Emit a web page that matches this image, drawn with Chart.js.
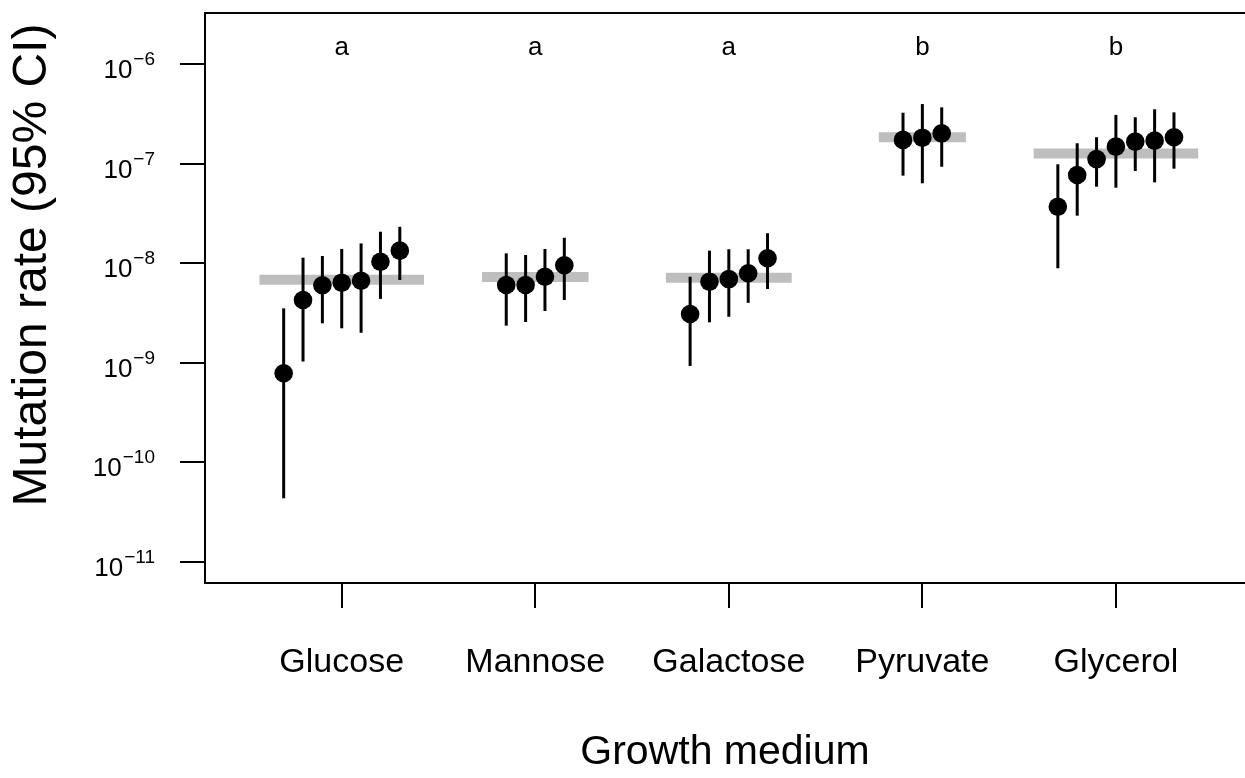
<!DOCTYPE html>
<html>
<head>
<meta charset="utf-8">
<script src="https://cdn.jsdelivr.net/npm/chart.js@4.4.1/dist/chart.umd.min.js"></script>
<style>
  html, body { margin: 0; padding: 0; background: #ffffff; }
  #wrap { width: 1245px; height: 778px; position: relative; }
</style>
</head>
<body>
<div id="wrap"><canvas id="c" width="1245" height="778"></canvas></div>
<script>
// ---------------- data ----------------
const categories = ['Glucose', 'Mannose', 'Galactose', 'Pyruvate', 'Glycerol'];
const groupLetters = ['a', 'a', 'a', 'b', 'b'];
const groupMean = [6.83e-9, 7.27e-9, 7.16e-9, 1.84e-7, 1.26e-7];

const glucoseRate  = [7.85e-10, 4.27e-9, 6.0e-9, 6.37e-9, 6.67e-9, 1.035e-8, 1.336e-8];
const glucoseLower = [4.36e-11, 1.03e-9, 2.49e-9, 2.22e-9, 2.0e-9, 4.38e-9, 6.78e-9];
const glucoseUpper = [3.52e-9, 1.135e-8, 1.18e-8, 1.39e-8, 1.58e-8, 2.07e-8, 2.32e-8];

const mannoseRate  = [6.04e-9, 6.04e-9, 7.31e-9, 9.53e-9];
const mannoseLower = [2.36e-9, 2.57e-9, 3.31e-9, 4.27e-9];
const mannoseUpper = [1.256e-8, 1.21e-8, 1.39e-8, 1.80e-8];

const galactoseRate  = [3.09e-9, 6.52e-9, 6.93e-9, 7.92e-9, 1.12e-8];
const galactoseLower = [9.3e-10, 2.55e-9, 2.90e-9, 4.0e-9, 5.51e-9];
const galactoseUpper = [7.31e-9, 1.336e-8, 1.38e-8, 1.38e-8, 2.0e-8];

const pyruvateRate  = [1.73e-7, 1.82e-7, 2.01e-7];
const pyruvateLower = [7.57e-8, 6.34e-8, 9.3e-8];
const pyruvateUpper = [3.24e-7, 3.96e-7, 3.67e-7];

const glycerolRate  = [3.69e-8, 7.69e-8, 1.11e-7, 1.48e-7, 1.66e-7, 1.70e-7, 1.84e-7];
const glycerolLower = [8.89e-9, 3.0e-8, 5.86e-8, 5.73e-8, 8.43e-8, 6.48e-8, 8.89e-8];
const glycerolUpper = [9.84e-8, 1.60e-7, 1.84e-7, 3.08e-7, 2.92e-7, 3.51e-7, 3.27e-7];

const yTickExponents = [-11, -10, -9, -8, -7, -6];

// ---------------- build ----------------
const groups = [
  { rate: glucoseRate,   lower: glucoseLower,   upper: glucoseUpper },
  { rate: mannoseRate,   lower: mannoseLower,   upper: mannoseUpper },
  { rate: galactoseRate, lower: galactoseLower, upper: galactoseUpper },
  { rate: pyruvateRate,  lower: pyruvateLower,  upper: pyruvateUpper },
  { rate: glycerolRate,  lower: glycerolLower,  upper: glycerolUpper }
];
const DODGE = 0.1;
const pointData = [];
groups.forEach((g, i) => {
  const n = g.rate.length;
  g.rate.forEach((r, j) => {
    pointData.push({ x: i + 1 + (j - (n - 1) / 2) * DODGE, y: r, lo: g.lower[j], hi: g.upper[j] });
  });
});

const FONT = "'Liberation Sans', Arial, Helvetica, sans-serif";

const datasets = groups.map((g, i) => {
  const hw = (g.rate.length + 1.5) * DODGE / 2;
  return {
    data: [{ x: i + 1 - hw, y: groupMean[i] }, { x: i + 1 + hw, y: groupMean[i] }],
    showLine: true,
    borderColor: '#bebebe',
    borderWidth: 10,
    borderCapStyle: 'butt',
    pointRadius: 0,
    pointHoverRadius: 0,
    order: 2
  };
});
const POINT_INDEX = datasets.length;
datasets.push({
  data: pointData,
  backgroundColor: '#000000',
  borderWidth: 0,
  pointRadius: 9.3,
  pointHoverRadius: 9.3,
  order: 1
});

const errorBars = {
  id: 'errorBars',
  beforeDatasetDraw(chart, args) {
    if (args.index !== POINT_INDEX) return;
    const { ctx, scales: { x, y } } = chart;
    ctx.save();
    ctx.strokeStyle = '#000000';
    ctx.lineWidth = 3;
    ctx.lineCap = 'butt';
    pointData.forEach(p => {
      const px = x.getPixelForValue(p.x);
      ctx.beginPath();
      ctx.moveTo(px, y.getPixelForValue(p.lo));
      ctx.lineTo(px, y.getPixelForValue(p.hi));
      ctx.stroke();
    });
    ctx.restore();
  }
};

const decorations = {
  id: 'decorations',
  afterDraw(chart) {
    const { ctx, chartArea, scales: { x, y } } = chart;
    ctx.save();
    // top frame line
    ctx.strokeStyle = '#000000';
    ctx.lineWidth = 2;
    ctx.beginPath();
    ctx.moveTo(chartArea.left - 1, chartArea.top);
    ctx.lineTo(chartArea.right + 2, chartArea.top);
    ctx.stroke();

    // y tick labels 10^n
    ctx.fillStyle = '#000000';
    ctx.textAlign = 'right';
    ctx.textBaseline = 'alphabetic';
    const labelRight = 155;
    yTickExponents.forEach(e => {
      const py = y.getPixelForValue(Math.pow(10, e));
      const sup = '\u2212' + Math.abs(e);
      ctx.font = '19px ' + FONT;
      const sw = ctx.measureText(sup).width;
      ctx.fillText(sup, labelRight, py + 1);
      ctx.font = '26px ' + FONT;
      ctx.fillText('10', labelRight - sw - 1, py + 14);
    });

    // group letters
    ctx.textAlign = 'center';
    ctx.font = '26px ' + FONT;
    groupLetters.forEach((l, i) => {
      ctx.fillText(l, x.getPixelForValue(i + 1), 55);
    });

    // y axis title
    ctx.translate(46, 265);
    ctx.rotate(-Math.PI / 2);
    ctx.textAlign = 'center';
    ctx.font = '48px ' + FONT;
    ctx.fillText('Mutation rate (95% CI)', 0, 0);
    ctx.restore();
  }
};

new Chart(document.getElementById('c'), {
  type: 'scatter',
  data: { datasets },
  options: {
    responsive: false,
    animation: false,
    devicePixelRatio: 1,
    layout: { autoPadding: false, padding: { top: 13, left: 0, right: 0, bottom: 0 } },
    plugins: { legend: { display: false }, tooltip: { enabled: false } },
    events: [],
    scales: {
      x: {
        type: 'linear',
        min: 0.2935,
        max: 5.667,
        afterBuildTicks(scale) { scale.ticks = categories.map((c, i) => ({ value: i + 1 })); },
        afterFit(scale) { scale.height = 195; scale.paddingLeft = 0; scale.paddingRight = 0; },
        ticks: {
          callback: (v, i) => categories[i],
          font: { family: FONT, size: 34 },
          color: '#000000',
          padding: 34,
          maxRotation: 0,
          autoSkip: false
        },
        grid: { drawOnChartArea: false, drawTicks: true, tickLength: 25, color: '#000000', lineWidth: 2 },
        border: { display: true, color: '#000000', width: 2 },
        title: {
          display: true,
          text: 'Growth medium',
          font: { family: FONT, size: 41 },
          color: '#000000',
          padding: { top: 0, bottom: 1 }
        }
      },
      y: {
        type: 'logarithmic',
        min: Math.pow(10, -11.211),
        max: Math.pow(10, -5.488),
        afterBuildTicks(scale) { scale.ticks = yTickExponents.map(e => ({ value: Math.pow(10, e) })); },
        afterFit(scale) { scale.width = 205; scale.paddingTop = 0; scale.paddingBottom = 0; },
        ticks: { display: false },
        grid: { drawOnChartArea: false, drawTicks: true, tickLength: 25, color: '#000000', lineWidth: 2 },
        border: { display: true, color: '#000000', width: 2 }
      }
    }
  },
  plugins: [errorBars, decorations]
});
</script>
</body>
</html>
